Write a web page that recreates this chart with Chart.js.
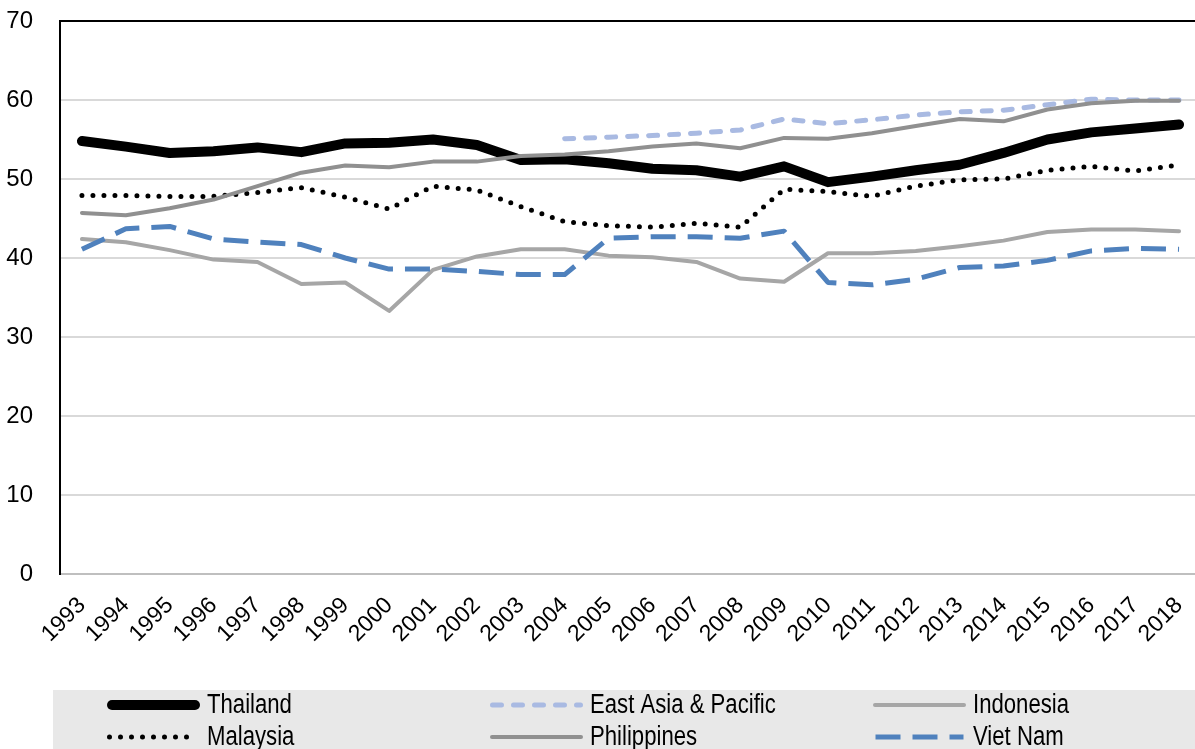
<!DOCTYPE html>
<html>
<head>
<meta charset="utf-8">
<script src="https://cdn.jsdelivr.net/npm/chart.js@4/dist/chart.umd.min.js"></script>
<style>
    html, body { margin: 0; padding: 0; background: #fff; overflow: hidden; }
    #wrap { width: 1201px; height: 749px; position: relative; }
</style>
</head>
<body>
<div id="wrap"><canvas id="shareChart"></canvas></div>
<script>
const years = ["1993", "1994", "1995", "1996", "1997", "1998", "1999", "2000", "2001", "2002", "2003", "2004", "2005",
    "2006", "2007", "2008", "2009", "2010", "2011", "2012", "2013", "2014", "2015", "2016", "2017", "2018"];

const thailand = [54.8, 54.1, 53.3, 53.5, 54.0, 53.4, 54.5, 54.6, 55.0, 54.3, 52.4, 52.5, 52.0,
    51.3, 51.1, 50.3, 51.6, 49.6, 50.3, 51.1, 51.8, 53.3, 55.0, 55.9, 56.4, 56.9];
const eastAsiaPacific = [null, null, null, null, null, null, null, null, null, null, null, 55.1, 55.3,
    55.5, 55.8, 56.2, 57.6, 57.0, 57.5, 58.1, 58.5, 58.7, 59.4, 60.1, 60.0, 60.0];
const indonesia = [42.4, 42.0, 41.0, 39.8, 39.5, 36.7, 36.9, 33.3, 38.5, 40.2, 41.1, 41.1, 40.3,
    40.1, 39.5, 37.4, 37.0, 40.6, 40.6, 40.9, 41.5, 42.2, 43.3, 43.6, 43.6, 43.4];
const malaysia = [47.9, 47.9, 47.8, 47.8, 48.3, 48.9, 47.7, 46.2, 49.1, 48.6, 46.5, 44.6, 44.1,
    43.9, 44.4, 43.9, 48.7, 48.4, 47.8, 49.1, 49.9, 50.0, 51.1, 51.6, 51.0, 51.8];
const philippines = [45.7, 45.4, 46.3, 47.4, 49.1, 50.8, 51.7, 51.5, 52.2, 52.2, 52.9, 53.1, 53.5,
    54.1, 54.5, 53.9, 55.2, 55.1, 55.8, 56.7, 57.6, 57.3, 58.8, 59.6, 59.9, 59.9];
const vietNam = [41.1, 43.7, 44.0, 42.4, 42.0, 41.7, 40.0, 38.6, 38.6, 38.3, 37.9, 37.9, 42.5,
    42.7, 42.7, 42.5, 43.4, 36.9, 36.6, 37.3, 38.8, 39.0, 39.7, 40.9, 41.2, 41.1];

const yTicks = [0, 10, 20, 30, 40, 50, 60, 70];

const font = "'Liberation Sans Narrow', 'Arial Narrow', 'Liberation Sans', Arial, sans-serif";

// legend drawn in a grey box under the axis, 3 columns x 2 rows
const boxLegend = {
    id: "boxLegend",
    afterDraw(chart) {
        const ctx = chart.ctx;
        const cols = [107, 490, 873];
        const rows = [705, 737];
        ctx.save();
        ctx.fillStyle = "#E8E8E8";
        ctx.fillRect(53, 690, 1150, 59);
        chart.data.datasets.forEach((ds, i) => {
            const x = cols[i % 3];
            const y = rows[Math.floor(i / 3)];
            ctx.beginPath();
            ctx.strokeStyle = ds.borderColor;
            ctx.lineWidth = ds.borderWidth;
            ctx.lineCap = ds.borderCapStyle || "butt";
            ctx.setLineDash(ds.borderDash || []);
            ctx.moveTo(x + ds.borderWidth / 2, y);
            ctx.lineTo(x + 93 - ds.borderWidth / 2, y);
            ctx.stroke();
            ctx.setLineDash([]);

            // narrow look: squeeze the text horizontally
            ctx.save();
            ctx.translate(x + 100, y + 1);
            ctx.scale(0.82, 1);
            ctx.fillStyle = "#000";
            ctx.font = "27px " + font;
            ctx.textBaseline = "middle";
            ctx.textAlign = "left";
            ctx.fillText(ds.label, 0, 0);
            ctx.restore();
        });
        ctx.restore();
    },
};

document.addEventListener("DOMContentLoaded", () => {
    const el = document.getElementById("shareChart");

    new Chart(el, {
        type: "line",
        data: {
            labels: years,
            datasets: [
                {
                    label: "Thailand",
                    data: thailand,
                    borderColor: "#000000",
                    borderWidth: 10,
                    borderCapStyle: "round",
                    order: 6,
                },
                {
                    label: "East Asia & Pacific",
                    data: eastAsiaPacific,
                    borderColor: "#A9BAE2",
                    borderWidth: 5,
                    borderDash: [9, 12],
                    borderCapStyle: "round",
                    order: 5,
                },
                {
                    label: "Indonesia",
                    data: indonesia,
                    borderColor: "#A6A6A6",
                    borderWidth: 4,
                    borderCapStyle: "round",
                    order: 4,
                },
                {
                    label: "Malaysia",
                    data: malaysia,
                    borderColor: "#000000",
                    borderWidth: 5,
                    borderDash: [0, 11],
                    borderCapStyle: "round",
                    order: 3,
                },
                {
                    label: "Philippines",
                    data: philippines,
                    borderColor: "#909090",
                    borderWidth: 4,
                    borderCapStyle: "round",
                    order: 2,
                },
                {
                    label: "Viet Nam",
                    data: vietNam,
                    borderColor: "#4F81BD",
                    borderWidth: 5,
                    borderDash: [25, 12],
                    order: 1,
                },
            ],
        },
        options: {
            responsive: true,
            maintainAspectRatio: false,
            animation: false,
            events: [],
            layout: {
                padding: { top: 21, left: 0, right: 0, bottom: 75 },
            },
            elements: {
                point: { radius: 0 },
                line: { tension: 0, borderJoinStyle: "round", fill: false },
            },
            plugins: {
                legend: { display: false },
                tooltip: { enabled: false },
            },
            scales: {
                x: {
                    offset: true,
                    afterFit(scale) {
                        scale.height = 100;
                        scale.paddingLeft = 0;
                        scale.paddingRight = 0;
                    },
                    grid: { display: false, drawTicks: false },
                    border: { display: true, color: "#BFBFBF", width: 2 },
                    ticks: {
                        autoSkip: false,
                        minRotation: 45,
                        maxRotation: 45,
                        padding: 18,
                        color: "#000",
                        font: { family: font, size: 23 },
                    },
                },
                y: {
                    min: 0,
                    max: 70,
                    afterFit(scale) {
                        scale.width = 60;
                        scale.paddingTop = 0;
                        scale.paddingBottom = 0;
                    },
                    afterBuildTicks(scale) {
                        scale.ticks = yTicks.map((v) => ({ value: v }));
                    },
                    grid: {
                        drawTicks: false,
                        lineWidth: 2,
                        color: (c) => {
                            if (c.tick.value === 0) return "#BFBFBF";
                            if (c.tick.value === 70) return "#000000";
                            return "#D9D9D9";
                        },
                    },
                    border: { display: true, color: "#000000", width: 2 },
                    ticks: {
                        padding: 27,
                        color: "#000",
                        font: { family: font, size: 24 },
                    },
                },
            },
        },
        plugins: [boxLegend],
    });
});
</script>
</body>
</html>
